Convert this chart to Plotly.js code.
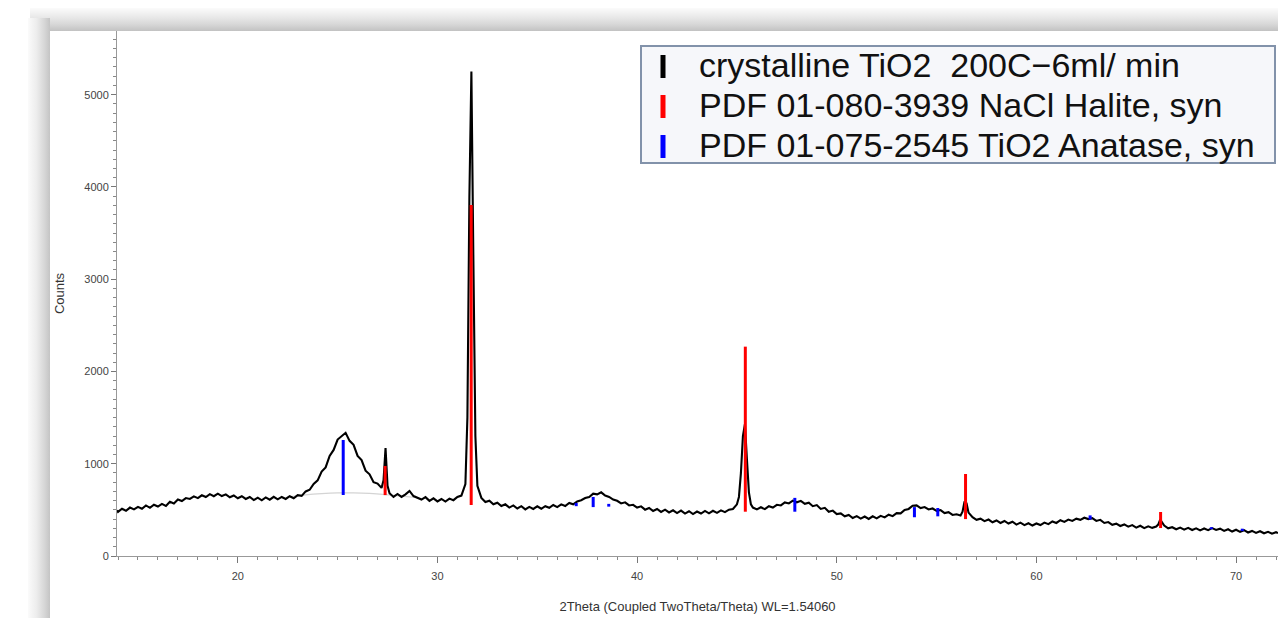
<!DOCTYPE html>
<html>
<head>
<meta charset="utf-8">
<script src="https://cdn.plot.ly/plotly-3.0.1.min.js"></script>
<style>
  html, body { margin:0; padding:0; background:#ffffff; width:1278px; height:618px; overflow:hidden; }
  #topband { position:absolute; left:30px; top:8px; width:1248px; height:23px;
    background:linear-gradient(to bottom, #fbfbfb 0%, #ebebeb 35%, #d8d8d8 70%, #c2c2c2 100%); }
  #leftband { position:absolute; left:28px; top:18px; width:22px; height:600px;
    background:linear-gradient(to right, #fbfbfb 0%, #ececec 40%, #d6d6d6 75%, #c4c4c4 100%); }
  #win { position:absolute; left:50px; top:31px; width:1228px; height:587px; background:#ffffff; }
  #chart { position:absolute; left:0; top:0; width:1278px; height:618px; }
</style>
</head>
<body>
<div id="topband"></div>
<div id="leftband"></div>
<div id="win"></div>
<div id="chart"></div>
<script>
// ---- measured pattern: crystalline TiO2 200C-6ml/min ----
const twoTheta = [13.95,14.0,14.2,14.4,14.6,14.8,15.0,15.2,15.4,15.6,15.8,16.0,16.2,16.4,16.6,16.8,17.0,17.2,17.4,17.6,17.8,
 18.0,18.2,18.4,18.6,18.8,19.0,19.2,19.4,19.6,19.8,20.0,20.2,20.4,20.6,20.8,21.0,21.2,21.4,21.6,21.8,
 22.0,22.2,22.4,22.6,22.8,23.0,23.2,23.4,23.6,23.8,24.0,24.2,24.4,24.6,24.8,25.0,25.2,25.4,25.6,25.8,
 26.0,26.2,26.4,26.6,26.8,27.0,27.2,27.3,27.4,27.5,27.6,27.8,28.0,28.2,28.4,28.6,28.8,29.0,29.2,29.4,29.6,29.8,
 30.0,30.2,30.4,30.6,30.8,31.0,31.2,31.4,31.5,31.6,31.7,31.8,31.9,32.0,32.2,32.4,32.6,32.8,33.0,33.2,33.4,33.6,33.8,
 34.0,34.2,34.4,34.6,34.8,35.0,35.2,35.4,35.6,35.8,36.0,36.2,36.4,36.6,36.8,37.0,37.2,37.4,37.6,37.8,
 38.0,38.2,38.4,38.6,38.8,39.0,39.2,39.4,39.6,39.8,40.0,40.2,40.4,40.6,40.8,41.0,41.2,41.4,41.6,41.8,
 42.0,42.2,42.4,42.6,42.8,43.0,43.2,43.4,43.6,43.8,44.0,44.2,44.4,44.6,44.8,45.0,45.1,45.2,45.3,45.4,45.5,45.6,45.7,45.8,
 46.0,46.2,46.4,46.6,46.8,47.0,47.2,47.4,47.6,47.8,48.0,48.2,48.4,48.6,48.8,49.0,49.2,49.4,49.6,49.8,
 50.0,50.2,50.4,50.6,50.8,51.0,51.2,51.4,51.6,51.8,52.0,52.2,52.4,52.6,52.8,53.0,53.2,53.4,53.6,53.8,
 54.0,54.2,54.4,54.6,54.8,55.0,55.2,55.4,55.6,55.8,56.0,56.2,56.3,56.4,56.5,56.6,56.8,57.0,57.2,57.4,57.6,57.8,
 58.0,58.2,58.4,58.6,58.8,59.0,59.2,59.4,59.6,59.8,60.0,60.2,60.4,60.6,60.8,61.0,61.2,61.4,61.6,61.8,
 62.0,62.2,62.4,62.6,62.8,63.0,63.2,63.4,63.6,63.8,64.0,64.2,64.4,64.6,64.8,65.0,65.2,65.4,65.6,65.8,
 66.0,66.1,66.2,66.3,66.4,66.6,66.8,67.0,67.2,67.4,67.6,67.8,68.0,68.2,68.4,68.6,68.8,69.0,69.2,69.4,69.6,69.8,
 70.0,70.2,70.4,70.6,70.8,71.0,71.2,71.4,71.6,71.8,72.0,72.1];
const counts = [495,478,512,490,525,505,532,512,548,522,556,536,565,543,588,570,612,596,628,618,646,
 627,658,639,670,648,676,650,668,637,656,626,648,618,640,606,632,604,635,610,641,
 614,640,618,648,626,660,652,700,718,782,820,915,960,1085,1150,1262,1300,1335,1248,1205,
 1085,1040,925,885,800,785,738,820,1170,760,680,640,672,640,668,705,650,628,612,638,598,625,
 592,618,590,622,605,640,655,780,1500,3900,5250,3200,1300,760,630,585,600,560,578,542,560,525,548,
 515,540,505,532,510,538,512,540,522,553,530,560,542,575,560,592,605,628,640,675,
 668,690,655,640,612,598,570,582,548,555,525,538,502,520,488,510,478,502,472,495,
 465,492,460,485,455,482,460,488,462,490,468,495,475,502,510,560,640,900,1300,1430,1050,690,560,525,
 505,528,508,540,525,555,548,580,570,600,582,598,565,578,540,552,510,522,480,492,
 455,462,430,445,412,432,405,428,402,430,408,435,418,448,432,465,462,498,510,545,
 548,520,530,505,515,490,498,465,475,445,452,440,480,590,570,470,420,392,405,378,395,365,
 385,358,380,352,372,340,362,335,355,330,352,335,362,345,375,358,388,370,395,380,
 405,392,415,400,410,380,392,358,368,338,350,325,342,318,335,308,328,302,322,305,
 320,340,395,365,330,300,312,290,308,285,305,282,300,278,298,280,302,282,296,272,290,265,
 285,262,280,255,272,250,268,246,262,242,258,248];

// ---- fitted background (light grey) under the amorphous hump ----
const bgTheta  = [22.6,23.4,24.2,25.0,25.8,26.6,27.4,28.2,29.0];
const bgCounts = [640,662,676,684,684,678,666,650,632];

// ---- PDF 01-080-3939 NaCl Halite, syn (stick positions, base, top) ----
const halitePos  = [27.38,31.69,45.42,56.45,66.22];
const haliteBase = [660,553,480,400,303];
const haliteTop  = [976,3805,2269,889,477];

// ---- PDF 01-075-2545 TiO2 Anatase, syn ----
const anatasePos  = [25.28,36.95,37.80,38.58,47.90,53.89,55.06,62.69,68.76,70.31];
const anataseBase = [661,540,530,535,480,420,430,395,290,270];
const anataseTop  = [1257,575,640,565,630,530,520,440,312,296];

// ---- legend / labels ----
const legendNames  = ["crystalline TiO2\u00a0\u00a0200C\u22126ml/ min",
                      "PDF 01-080-3939 NaCl Halite, syn",
                      "PDF 01-075-2545 TiO2 Anatase, syn"];
const legendColors = ["#000000","#ff0000","#0000ff"];
const xTitle = "2Theta (Coupled TwoTheta/Theta) WL=1.54060";
const yTitle = "Counts";
const yTickVals = [0,1000,2000,3000,4000,5000];
const xTickVals = [20,30,40,50,60,70];

function sticks(pos, base, top) {
  const x = [], y = [];
  for (let i = 0; i < pos.length; i++) {
    x.push(pos[i], pos[i], null);
    y.push(base[i], top[i], null);
  }
  return {x, y};
}
const hs = sticks(halitePos, haliteBase, haliteTop);
const as = sticks(anatasePos, anataseBase, anataseTop);

const traces = [
  {x: bgTheta, y: bgCounts, mode: 'lines', line: {color: '#d4d4d4', width: 1.2, shape: 'spline'},
   showlegend: false, hoverinfo: 'skip'},
  {x: twoTheta, y: counts, mode: 'lines', line: {color: legendColors[0], width: 2.1},
   name: legendNames[0], showlegend: false},
  {x: as.x, y: as.y, mode: 'lines', line: {color: legendColors[2], width: 3},
   name: legendNames[2], showlegend: false},
  {x: hs.x, y: hs.y, mode: 'lines', line: {color: legendColors[1], width: 3},
   name: legendNames[1], showlegend: false}
];

// plot area pixel geometry: left 117, right 1278, top 31, bottom 556
const L = 117, R = 1278, T = 31, B = 556;
const px = v => (v - L) / (R - L);
const py = v => (B - v) / (B - T);

const shapes = [
  {type: 'rect', xref: 'paper', yref: 'paper', x0: px(641), x1: px(1275), y0: py(163), y1: py(46),
   line: {color: '#8292aa', width: 2}, fillcolor: '#f6f7fa', layer: 'above'}
];
const rowY = [65, 105, 145];
const annotations = [];
legendNames.forEach((n, i) => {
  shapes.push({type: 'line', xref: 'paper', yref: 'paper', x0: px(663), x1: px(663),
    y0: py(rowY[i] + 13), y1: py(rowY[i] - 10), line: {color: legendColors[i], width: 5}, layer: 'above'});
  annotations.push({xref: 'paper', yref: 'paper', x: px(697), y: py(rowY[i]), xanchor: 'left', yanchor: 'middle',
    text: n, showarrow: false, font: {family: '"Liberation Sans", Arial, sans-serif', size: 34, color: '#111111'}});
});

const layout = {
  width: 1278, height: 618,
  margin: {l: L, r: 1278 - R, t: T, b: 618 - B, pad: 0},
  paper_bgcolor: 'rgba(0,0,0,0)',
  plot_bgcolor: '#ffffff',
  font: {family: '"Liberation Sans", Arial, sans-serif', color: '#444444', size: 11},
  showlegend: false,
  xaxis: {
    range: [13.95, 72.1], tickvals: xTickVals, ticktext: xTickVals.map(String),
    ticks: 'outside', ticklen: 6, tickwidth: 1, tickcolor: '#777777',
    minor: {dtick: 1, tick0: 0, ticks: 'outside', ticklen: 3, tickcolor: '#888888', showgrid: false},
    showline: true, linecolor: '#999999', linewidth: 1, showgrid: false, zeroline: false,
    tickfont: {size: 11, color: '#444444'}, ticklabelstandoff: 4,
    title: {text: xTitle, font: {size: 13, color: '#333333'}, standoff: 20}
  },
  yaxis: {
    range: [0, 5690], tickvals: yTickVals, ticktext: yTickVals.map(String),
    ticks: 'outside', ticklen: 5, tickwidth: 1, tickcolor: '#777777',
    minor: {dtick: 100, tick0: 0, ticks: 'outside', ticklen: 3, tickcolor: '#888888', showgrid: false},
    showline: true, linecolor: '#999999', linewidth: 1, showgrid: false, zeroline: false,
    tickfont: {size: 11, color: '#444444'},
    title: {text: yTitle, font: {size: 13, color: '#333333'}, standoff: 16}
  },
  shapes: shapes,
  annotations: annotations
};

Plotly.newPlot('chart', traces, layout, {displayModeBar: false, staticPlot: true});
</script>
</body>
</html>
